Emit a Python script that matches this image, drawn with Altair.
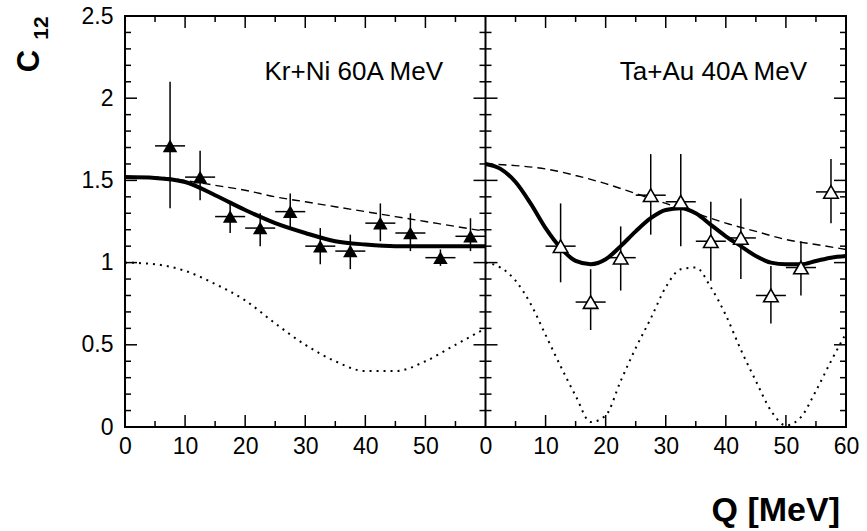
import altair as alt
import pandas as pd

# ---------------- data ----------------
# Kr+Ni 60A MeV (filled triangles)
kr_q = [7.5, 12.5, 17.5, 22.5, 27.5, 32.5, 37.5, 42.5, 47.5, 52.5, 57.5]
kr_c = [1.71, 1.52, 1.28, 1.21, 1.31, 1.10, 1.07, 1.24, 1.18, 1.03, 1.16]
kr_lo = [1.33, 1.38, 1.18, 1.10, 1.21, 0.99, 0.96, 1.13, 1.07, 0.98, 1.07]
kr_hi = [2.10, 1.68, 1.36, 1.30, 1.42, 1.21, 1.17, 1.36, 1.30, 1.08, 1.27]

# Ta+Au 40A MeV (open triangles)
ta_q = [12.5, 17.5, 22.5, 27.5, 32.5, 37.5, 42.5, 47.5, 52.5, 57.5]
ta_c = [1.10, 0.76, 1.03, 1.41, 1.37, 1.13, 1.15, 0.80, 0.97, 1.43]
ta_lo = [0.88, 0.59, 0.83, 1.17, 1.10, 0.89, 0.90, 0.63, 0.80, 1.24]
ta_hi = [1.36, 0.96, 1.22, 1.66, 1.66, 1.37, 1.39, 0.98, 1.13, 1.63]

bin_half = 2.5  # half width of the Q bins (horizontal error bars)

# model curves
q_step5 = [0, 5, 10, 15, 20, 25, 30, 35, 40, 45, 50, 55, 60]
q_step25 = [0, 2.5, 5, 7.5, 10, 12.5, 15, 17.5, 20, 22.5, 25, 27.5, 30,
            32.5, 35, 37.5, 40, 42.5, 45, 47.5, 50, 52.5, 55, 57.5, 60]

kr_solid = [1.52, 1.515, 1.49, 1.41, 1.32, 1.24, 1.18, 1.13, 1.11, 1.10, 1.10, 1.10, 1.10]
kr_dash = [1.52, 1.52, 1.50, 1.47, 1.44, 1.40, 1.37, 1.34, 1.31, 1.28, 1.25, 1.22, 1.19]
kr_dot = [1.00, 0.99, 0.95, 0.87, 0.77, 0.63, 0.50, 0.40, 0.34, 0.34, 0.40, 0.50, 0.60]

ta_solid = [1.60, 1.57, 1.49, 1.36, 1.21, 1.09, 1.01, 0.99, 1.02, 1.10, 1.19, 1.27, 1.32,
            1.33, 1.30, 1.23, 1.16, 1.10, 1.04, 1.00, 0.99, 0.99, 1.01, 1.03, 1.04]
ta_dash = [1.60, 1.59, 1.57, 1.53, 1.48, 1.42, 1.36, 1.30, 1.24, 1.19, 1.14, 1.11, 1.08]
ta_dot = [1.00, 0.97, 0.89, 0.75, 0.56, 0.37, 0.19, 0.03, 0.07, 0.28, 0.48, 0.66, 0.85,
          0.96, 0.97, 0.85, 0.68, 0.47, 0.28, 0.10, 0.01, 0.06, 0.22, 0.40, 0.57]

# axis tick labels and tick marks
x_tick_labels = [0, 10, 20, 30, 40, 50, 60]
y_tick_labels = [0, 0.5, 1, 1.5, 2, 2.5]
x_major = [10, 20, 30, 40, 50]
x_minor = [5, 15, 25, 35, 45, 55]
y_major = [0.5, 1.0, 1.5, 2.0]
y_minor = [0.1, 0.2, 0.3, 0.4, 0.6, 0.7, 0.8, 0.9, 1.1, 1.2, 1.3, 1.4,
           1.6, 1.7, 1.8, 1.9, 2.1, 2.2, 2.3, 2.4]

panel_labels = ["Kr+Ni 60A MeV", "Ta+Au 40A MeV"]

# ---------------- tables ----------------
SPAN = 60  # the right panel follows the left one on a shared Q axis

rows = []
for q, a, b, c in zip(q_step5, kr_solid, kr_dash, kr_dot):
    rows += [dict(X=q, C=a, kind="solid", panel="kr"),
             dict(X=q, C=b, kind="dash", panel="kr"),
             dict(X=q, C=c, kind="dot", panel="kr")]
for q, a, c in zip(q_step25, ta_solid, ta_dot):
    rows += [dict(X=q + SPAN, C=a, kind="solid", panel="ta"),
             dict(X=q + SPAN, C=c, kind="dot", panel="ta")]
for q, b in zip(q_step5, ta_dash):
    rows.append(dict(X=q + SPAN, C=b, kind="dash", panel="ta"))
curves = pd.DataFrame(rows)

kr_pts = pd.DataFrame(dict(X=kr_q, C=kr_c, lo=kr_lo, hi=kr_hi))
ta_pts = pd.DataFrame(dict(X=[q + SPAN for q in ta_q], C=ta_c, lo=ta_lo, hi=ta_hi))
for d in (kr_pts, ta_pts):
    d["xl"] = d["X"] - bin_half
    d["xr"] = d["X"] + bin_half
pts = pd.concat([kr_pts.assign(panel="kr"), ta_pts.assign(panel="ta")])

xmaj = pd.DataFrame(dict(X=x_major + [v + SPAN for v in x_major]))
xmin = pd.DataFrame(dict(X=x_minor + [v + SPAN for v in x_minor]))
ymaj = pd.DataFrame(dict(C=y_major))
ymin = pd.DataFrame(dict(C=y_minor))

x_label_values = x_tick_labels[:-1] + [v + SPAN for v in x_tick_labels]

# ---------------- chart ----------------
W, H = 721, 411
FONT = "Liberation Sans"
xs = alt.Scale(domain=[0, 2 * SPAN], nice=False, zero=False)
ys = alt.Scale(domain=[0, 2.5], nice=False, zero=False)

x_axis = alt.Axis(values=x_label_values,
                  labelExpr="datum.value >= 60 ? '' + (datum.value - 60) : '' + datum.value",
                  ticks=False, domain=False, grid=False, title=None,
                  labelFont=FONT, labelFontSize=23, labelColor="black",
                  labelPadding=8, labelFlush=False, labelOverlap=False)
y_axis = alt.Axis(values=y_tick_labels, labelExpr="'' + datum.value",
                  ticks=False, domain=False, grid=False, title=None,
                  labelFont=FONT, labelFontSize=23, labelColor="black",
                  labelPadding=12, labelFlush=False, labelOverlap=False)

def X(field="X"):
    return alt.X(f"{field}:Q", scale=xs, axis=x_axis)

def Y(field="C"):
    return alt.Y(f"{field}:Q", scale=ys, axis=y_axis)

base = alt.Chart(curves)
dot = base.transform_filter(alt.datum.kind == "dot").mark_line(
    color="black", strokeWidth=2, strokeDash=[2, 5], interpolate="monotone"
).encode(x=X(), y=Y(), detail="panel:N")
dash = base.transform_filter(alt.datum.kind == "dash").mark_line(
    color="black", strokeWidth=1.4, strokeDash=[8, 5], interpolate="monotone"
).encode(x=X(), y=Y(), detail="panel:N")
solid = base.transform_filter(alt.datum.kind == "solid").mark_line(
    color="black", strokeWidth=4, interpolate="monotone"
).encode(x=X(), y=Y(), detail="panel:N")

pbase = alt.Chart(pts)
vbar = pbase.mark_rule(color="black", strokeWidth=1.5).encode(x=X(), y=Y("lo"), y2="hi:Q")
hbar = pbase.mark_rule(color="black", strokeWidth=1.5).encode(x=X("xl"), x2="xr:Q", y=Y())
kr_tri = pbase.transform_filter(alt.datum.panel == "kr").mark_point(
    shape="triangle-up", filled=True, color="black", size=210, opacity=1
).encode(x=X(), y=Y())
ta_tri = pbase.transform_filter(alt.datum.panel == "ta").mark_point(
    shape="triangle-up", filled=True, fill="white", stroke="black", strokeWidth=1.6,
    size=210, opacity=1
).encode(x=X(), y=Y())

def rule(df, **enc):
    return alt.Chart(df).mark_rule(color="black", strokeWidth=1.5).encode(**enc)

MAJ, MIN = 12, 6
ticks = [
    rule(xmaj, x=X(), y=alt.value(H), y2=alt.value(H - MAJ)),
    rule(xmin, x=X(), y=alt.value(H), y2=alt.value(H - MIN)),
    rule(xmaj, x=X(), y=alt.value(0), y2=alt.value(MAJ)),
    rule(xmin, x=X(), y=alt.value(0), y2=alt.value(MIN)),
    rule(ymaj, y=Y(), x=alt.value(0), x2=alt.value(MAJ)),
    rule(ymin, y=Y(), x=alt.value(0), x2=alt.value(MIN)),
    rule(ymaj, y=Y(), x=alt.value(W), x2=alt.value(W - MAJ)),
    rule(ymin, y=Y(), x=alt.value(W), x2=alt.value(W - MIN)),
    rule(ymaj, y=Y(), x=alt.value(W / 2 - MAJ), x2=alt.value(W / 2 + MAJ)),
    rule(ymin, y=Y(), x=alt.value(W / 2 - MIN), x2=alt.value(W / 2 + MIN)),
]
divider = alt.Chart(pd.DataFrame({"d": [0]})).mark_rule(color="black", strokeWidth=2).encode(
    x=alt.value(W / 2), y=alt.value(0), y2=alt.value(H))

def label(text, x, y, size, bold=False, align="center", angle=0, baseline="alphabetic"):
    return alt.Chart(pd.DataFrame({"t": [text]})).mark_text(
        font=FONT, fontSize=size, fontWeight="bold" if bold else "normal",
        align=align, baseline=baseline, angle=angle, color="black"
    ).encode(text="t:N", x=alt.value(x), y=alt.value(y))

texts = [
    label(panel_labels[0], 318, 64, 26, align="right"),
    label(panel_labels[1], 682, 64, 26, align="right"),
    label("Q [MeV]", 715, 505, 34, bold=True, align="right"),
    label("C", -95, 45, 31, bold=True, angle=270, baseline="middle"),
    label("12", -83, 12, 21, bold=True, angle=270, baseline="middle"),
]

chart = alt.layer(
    dot, dash, solid, vbar, hbar, kr_tri, ta_tri, divider, *ticks, *texts
).properties(
    width=W, height=H,
    padding={"left": 125, "top": 16, "right": 21, "bottom": 104},
    autosize=alt.AutoSizeParams(type="none"),
    background="white",
).configure_view(stroke="black", strokeWidth=2)

chart.save("out.html", embed_options={"renderer": "svg", "actions": False})
